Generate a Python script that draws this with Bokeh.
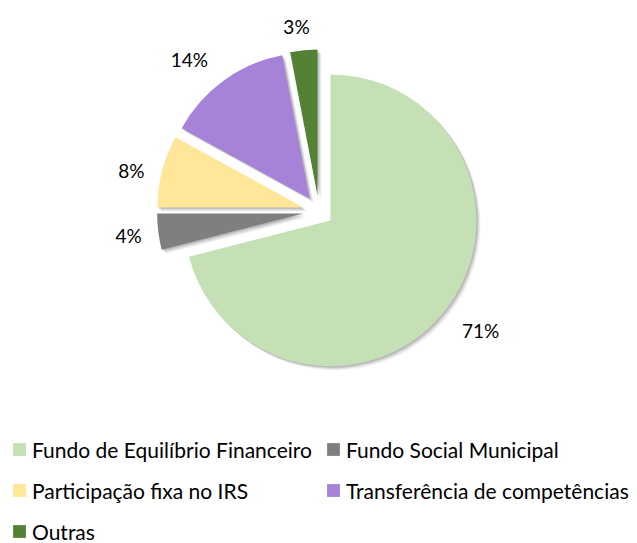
import numpy as np
from bokeh.plotting import figure
from bokeh.models import Range1d, Legend, LegendItem, ColumnDataSource
from bokeh.core.properties import value
from bokeh.embed import file_html
from bokeh.resources import INLINE

# ---- data ----
categories = ["Fundo de Equilíbrio Financeiro", "Fundo Social Municipal",
              "Participação fixa no IRS", "Transferência de competências", "Outras"]
shares = [71, 4, 8, 14, 3]
labels = ["71%", "4%", "8%", "14%", "3%"]
colors = ["#C5E0B4", "#7F7F7F", "#FFE699", "#A682D9", "#548235"]

# ---- layout / style ----
CX, CY = 318.5, -211.0          # pie centre (px from top-left, y flipped)
R = 146                          # radius in px
explode = [14.5, 16, 16, 16, 16]
label_r = [186, 176, 176, 184, 170]
label_shift = [-1.6, 0, -2.2, -4.8, -1.7]   # degrees, clockwise from bisector
FONT = "Lato"

frac = np.array(shares, dtype=float) / sum(shares)
cum = np.concatenate([[0.0], np.cumsum(frac)])
start = np.pi / 2 - 2 * np.pi * cum[:-1]
end = np.pi / 2 - 2 * np.pi * cum[1:]
mid = (start + end) / 2
ex = np.array(explode)
vx = CX + ex * np.cos(mid)
vy = CY + ex * np.sin(mid)
la = mid - np.radians(label_shift)
lx = vx + np.array(label_r) * np.cos(la)
ly = vy + np.array(label_r) * np.sin(la)

W, H = 637, 543
p = figure(width=W, height=H, output_backend="svg", toolbar_location=None,
           x_range=Range1d(0, W), y_range=Range1d(-H, 0),
           x_axis_type=None, y_axis_type=None, min_border=0)
p.grid.visible = False
p.outline_line_color = None
p.background_fill_color = "white"
p.border_fill_color = "white"

# soft shadow
for off, a in [(4, 0.05), (3, 0.07), (2, 0.09), (1, 0.1)]:
    p.wedge(x=vx + off, y=vy - off, radius=R, radius_units="screen",
            start_angle=start, end_angle=end, direction="clock",
            fill_color="black", fill_alpha=a, line_color=None)

src = ColumnDataSource(dict(x=vx, y=vy, start=start, end=end, color=colors,
                            cat=categories))
wedges = p.wedge(x="x", y="y", radius=R, radius_units="screen",
                 start_angle="start", end_angle="end", direction="clock",
                 fill_color="color", line_color=None, source=src)

p.text(x=lx, y=ly, text=labels, text_align="center", text_baseline="middle",
       text_font=value(FONT), text_font_size="19px", text_color="#000000")

def make_legend(idx, loc):
    return Legend(items=[LegendItem(label=categories[i], renderers=[wedges], index=i) for i in idx],
                  location=loc, glyph_width=16, glyph_height=16, label_standoff=5,
                  label_text_font=FONT, label_text_font_size="21px",
                  label_text_color="#000000", label_height=26, spacing=15,
                  padding=0, margin=0, border_line_color=None,
                  background_fill_alpha=0)

p.add_layout(make_legend([0, 2, 4], (11, -1)))
p.add_layout(make_legend([1, 3], (325, 40)))

open("out.html", "w").write(file_html(p, INLINE))
